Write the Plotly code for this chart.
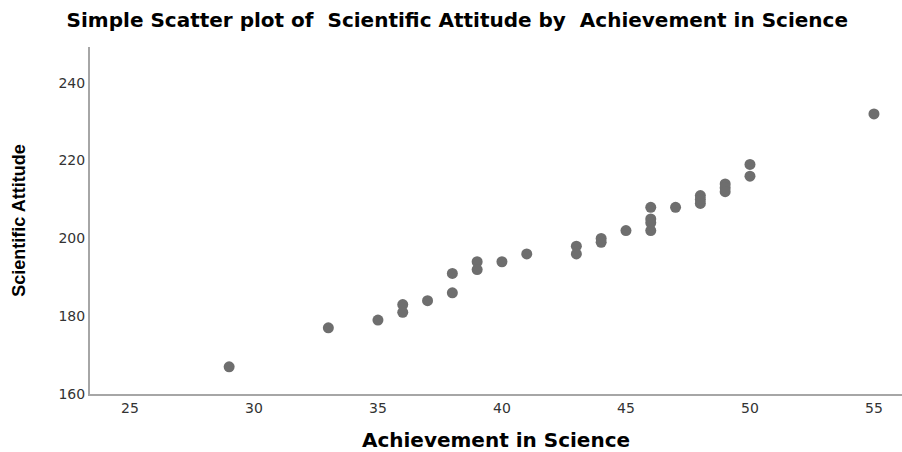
import plotly.graph_objects as go

achievement = [29, 33, 35, 36, 36, 37, 38, 38, 39, 39, 40, 41, 43, 43, 44, 44, 45,
               46, 46, 46, 46, 47, 48, 48, 48, 49, 49, 49, 50, 50, 55]
attitude = [167, 177, 179, 183, 181, 184, 191, 186, 194, 192, 194, 196, 198, 196, 200, 199, 202,
            208, 205, 204, 202, 208, 211, 210, 209, 214, 213, 212, 219, 216, 232]

x_ticks = [25, 30, 35, 40, 45, 50, 55]
y_ticks = [160, 180, 200, 220, 240]

WIDE = "DejaVu Sans, Verdana, sans-serif"

fig = go.Figure()
fig.add_trace(go.Scatter(
    x=achievement, y=attitude, mode="markers",
    marker=dict(symbol="circle", size=11, color="#6e6e6e", line=dict(width=0)),
    showlegend=False,
))

fig.update_layout(
    width=902, height=452,
    margin=dict(l=90, r=0, t=47, b=58),
    paper_bgcolor="white", plot_bgcolor="white",
    title=dict(text="<b>Simple Scatter plot of  Scientific Attitude by  Achievement in Science</b>",
               x=0.507, xanchor="center", y=0.956, yanchor="middle",
               font=dict(family=WIDE, size=20, color="#000000")),
    font=dict(family=WIDE),
)
fig.update_xaxes(
    range=[23.39, 56.13], tickvals=x_ticks, ticktext=[str(v) for v in x_ticks],
    showgrid=False, zeroline=False, showline=True, linecolor="#a6a6a6", linewidth=2,
    ticks="", ticklen=0, tickfont=dict(family=WIDE, size=14, color="#333333"),
    title=dict(text="<b>Achievement in Science</b>", standoff=20,
               font=dict(family=WIDE, size=20, color="#000000")),
)
fig.update_yaxes(
    range=[160, 249.2], tickvals=y_ticks, ticktext=[str(v) for v in y_ticks],
    showgrid=False, zeroline=False, showline=True, linecolor="#a6a6a6", linewidth=2,
    ticks="", ticklen=0, tickfont=dict(family=WIDE, size=14, color="#333333"),
    title=dict(text="<b>Scientific Attitude</b>", standoff=28,
               font=dict(family="Liberation Sans, Arial, sans-serif", size=18, color="#000000")),
)

fig.write_html("out.html")
